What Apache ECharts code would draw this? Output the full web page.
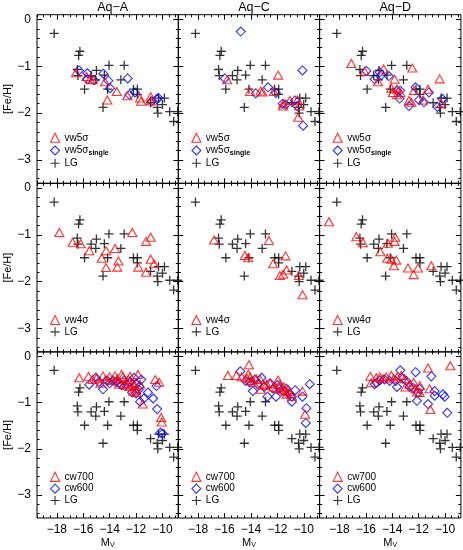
<!DOCTYPE html>
<html>
<head>
<meta charset="utf-8">
<script src="https://cdn.jsdelivr.net/npm/echarts@6/dist/echarts.min.js"></script>
<style>
html, body { margin: 0; padding: 0; background: #fff; }
#chart { width: 463px; height: 550px; }
</style>
</head>
<body>
<div id="chart"></div>
<script>
// panel titles and axis ticks
var halos = ['Aq−A', 'Aq−C', 'Aq−D'];
var xTicks = [-18, -16, -14, -12, -10];
var yTicks = [-3, -2, -1, 0];

// Local Group dwarfs (same in every panel) : [M_V, [Fe/H]]
var lg = [[-18.2,-0.3],[-16.25,-0.68],[-16.35,-0.77],[-16.45,-1.07],[-16.4,-1.2],[-15.9,-1.49],
  [-15.4,-1.2],[-15.0,-1.09],[-15.05,-1.29],[-14.4,-1.19],[-14.05,-0.98],[-14.15,-1.49],[-14.5,-1.88],
  [-12.9,-0.98],[-13.15,-1.29],[-12.2,-1.49],[-11.9,-1.49],[-11.9,-1.6],[-10.9,-1.78],[-10.3,-1.68],
  [-9.85,-1.68],[-10.0,-1.82],[-10.4,-1.88],[-10.35,-2.0],[-9.45,-1.97],[-9.15,-2.18],[-8.85,-1.97]];

// row 1 : vw5sigma
var vw5A = [[-16.55,-1.14],[-15.48,-1.28],[-15.28,-1.29],[-15.75,-1.22],[-14.35,-1.33],[-14.17,-1.72],[-13.46,-1.54],
  [-12.66,-1.63],[-11.7,-1.68],[-11.62,-1.75],[-10.89,-1.65],[-10.89,-1.74]];
var vw5sA = [[-16.32,-1.09],[-15.69,-1.15],[-15.69,-1.28],[-15.18,-1.3],[-14.48,-1.16],[-14.1,-1.31],[-13.97,-1.47],
  [-12.63,-1.26],[-12.5,-1.61],[-12.08,-1.56],[-10.81,-1.75],[-10.43,-1.7],[-10.3,-1.68]];
var vw5C = [[-15.8,-1.29],[-14.08,-1.54],[-13.27,-1.53],[-13.12,-1.55],[-12.27,-1.54],[-11.94,-1.19],[-11.05,-1.73],
  [-11.56,-1.85],[-11.55,-1.8],[-10.47,-1.72],[-10.35,-1.85],[-10.42,-2.09]];
var vw5sC = [[-14.77,-0.26],[-15.98,-1.26],[-13.63,-1.58],[-12.7,-1.45],[-12.11,-1.57],[-11.6,-1.8],[-11.36,-1.82],
  [-10.67,-1.73],[-10.5,-1.85],[-10.1,-1.09],[-10.05,-2.27]];
var vw5D = [[-17.1,-0.94],[-16.09,-1.11],[-15.08,-1.33],[-14.65,-1.06],[-13.82,-1.28],[-14.07,-1.47],[-13.95,-1.56],
  [-13.64,-1.49],[-13.64,-1.61],[-13.39,-1.56],[-12.73,-1.73],[-12.55,-1.77],[-12.48,-1.04],[-12.35,-1.52],
  [-11.67,-1.72],[-11.3,-1.49],[-10.41,-1.27],[-10.28,-1.8]];
var vw5sD = [[-15.96,-1.1],[-15.33,-1.28],[-14.95,-1.13],[-14.83,-1.19],[-14.25,-1.21],[-13.64,-1.52],[-13.4,-1.52],
  [-13.44,-1.69],[-12.73,-1.85],[-12.23,-1.45],[-11.98,-1.72],[-11.6,-1.77],[-11.22,-1.56],[-10.58,-1.87],[-10.2,-1.7]];

// row 2 : vw4sigma
var vw4A = [[-17.81,-0.95],[-16.8,-1.16],[-16.19,-1.19],[-15.54,-1.34],[-14.6,-1.5],[-14.27,-1.34],[-14.27,-1.7],
  [-13.59,-1.29],[-13.42,-1.69],[-13.34,-1.56],[-12.28,-0.95],[-11.83,-1.69],[-11.24,-1.14],[-11.24,-1.8],
  [-10.89,-1.05],[-10.89,-1.52],[-10.64,-1.62]];
var vw4C = [[-16.79,-1.11],[-14.46,-1.44],[-14.21,-1.49],[-12.64,-1.12],[-12.32,-1.62],[-11.38,-1.45],[-11.3,-1.75],
  [-11.81,-1.87],[-11.56,-1.84],[-10.37,-1.87],[-10.09,-2.28]];
var vw4D = [[-18.79,-0.72],[-16.72,-1.04],[-16.22,-1.17],[-14.9,-1.36],[-14.33,-1.18],[-13.77,-1.05],[-13.82,-1.14],
  [-14.37,-1.5],[-14.07,-1.52],[-13.7,-1.54],[-13.87,-1.66],[-12.81,-1.71],[-12.38,-1.85],[-12.05,-1.71],[-11.04,-1.66]];

// row 3 : cw700 / cw600
var cw700A = [[-16.3,-0.46],[-15.6,-0.43],[-15.3,-0.5],[-15.0,-0.47],[-14.7,-0.58],[-14.5,-0.42],[-14.3,-0.5],
  [-14.0,-0.44],[-13.8,-0.52],[-13.6,-0.42],[-13.4,-0.48],[-13.1,-0.39],[-13.0,-0.44],[-12.9,-0.6],[-12.75,-0.62],
  [-12.6,-0.5],[-12.45,-0.43],[-12.3,-0.57],[-12.1,-0.63],[-12.0,-0.7],[-11.95,-0.78],[-11.85,-0.39],[-11.7,-0.6],
  [-11.5,-1.03],[-10.55,-0.5],[-10.25,-0.56],[-10.1,-1.32],[-10.05,-1.42],[-12.5,-0.65],[-13.3,-0.6],[-12.2,-0.75]];
var cw600A = [[-15.55,-0.61],[-15.05,-0.46],[-14.8,-0.55],[-14.5,-0.71],[-14.2,-0.52],[-14.0,-0.58],[-13.75,-0.52],
  [-13.5,-0.55],[-13.3,-0.57],[-13.1,-0.62],[-12.9,-0.52],[-12.7,-0.6],[-12.45,-0.55],[-12.3,-0.78],[-12.15,-0.46],
  [-12.0,-0.6],[-11.75,-0.65],[-11.7,-0.98],[-11.6,-0.5],[-11.4,-0.91],[-11.1,-0.78],[-10.7,-0.91],[-10.45,-0.64],
  [-10.4,-1.14],[-10.15,-1.65],[-10.0,-1.67],[-12.0,-0.8],[-11.8,-0.72]];
var cw700C = [[-15.75,-0.41],[-15.1,-0.41],[-14.7,-0.44],[-14.15,-0.18],[-14.2,-0.38],[-14.05,-0.45],[-14.3,-0.47],
  [-13.95,-0.52],[-13.8,-0.56],[-13.6,-0.48],[-13.3,-0.5],[-13.25,-0.71],[-13.0,-0.62],[-12.8,-0.6],[-12.55,-0.58],
  [-12.3,-0.66],[-12.1,-0.68],[-11.95,-0.51],[-11.8,-0.6],[-11.7,-0.72],[-11.5,-0.66],[-11.4,-0.75],[-11.3,-0.82],
  [-11.2,-0.72],[-11.0,-0.8],[-10.9,-0.86],[-10.1,-0.75],[-9.9,-1.25]];
var cw600C = [[-14.8,-0.32],[-14.4,-0.53],[-14.1,-0.56],[-13.85,-0.75],[-13.5,-0.6],[-13.2,-0.46],[-13.0,-0.66],
  [-12.75,-0.87],[-12.55,-0.58],[-12.3,-0.7],[-12.1,-0.87],[-11.85,-0.7],[-11.5,-0.76],[-11.3,-0.7],[-11.1,-0.8],
  [-10.9,-0.87],[-10.9,-0.98],[-10.65,-0.73],[-10.1,-0.87],[-9.55,-0.6],[-9.8,-1.12],[-9.85,-1.44],[-12.0,-0.62],[-13.7,-0.5]];
var cw700D = [[-15.66,-0.43],[-15.6,-0.57],[-15.21,-0.46],[-14.95,-0.44],[-14.7,-0.48],[-14.45,-0.44],[-14.07,-0.41],
  [-13.89,-0.48],[-13.64,-0.44],[-13.31,-0.41],[-13.06,-0.48],[-13.0,-0.66],[-12.68,-0.6],[-12.38,-0.56],[-12.23,-0.7],
  [-12.13,-0.77],[-11.92,-0.63],[-11.92,-0.78],[-11.29,-0.25],[-11.17,-0.7],[-11.11,-1.15],[-9.6,-0.2]];
var cw600D = [[-15.33,-0.6],[-15.2,-0.57],[-14.95,-0.52],[-14.58,-0.5],[-14.2,-0.53],[-13.74,-0.53],[-13.64,-0.66],
  [-13.39,-0.3],[-13.19,-0.48],[-12.93,-0.53],[-12.68,-0.66],[-12.43,-0.68],[-12.23,-0.34],[-12.05,-0.78],[-11.92,-0.7],
  [-12.13,-0.96],[-11.04,-0.43],[-11.29,-1.03],[-10.79,-0.75],[-10.79,-0.85],[-10.16,-0.82],[-10.03,-0.87],[-9.83,-1.22]];

var RED = '#ff0000', BLUE = '#0000ff', BLACK = '#000000';
var PLUS = 'path://M0,5L10,5M5,0L5,10';
var rows = [
  { kinds: [['vw5σ', 'triangle', RED], ['vw5σ_single', 'diamond', BLUE], ['LG', PLUS, BLACK]],
    data: [[vw5A, vw5sA, lg], [vw5C, vw5sC, lg], [vw5D, vw5sD, lg]] },
  { kinds: [['vw4σ', 'triangle', RED], ['LG', PLUS, BLACK]],
    data: [[vw4A, lg], [vw4C, lg], [vw4D, lg]] },
  { kinds: [['cw700', 'triangle', RED], ['cw600', 'diamond', BLUE], ['LG', PLUS, BLACK]],
    data: [[cw700A, cw600A, lg], [cw700C, cw600C, lg], [cw700D, cw600D, lg]] }
];

var lefts = [37, 178.3, 319.6], W = 141.3;
var tops = [14.7, 183.3, 351.9], H = 168.6;
var XMIN = -19.5, XMAX = -8.8, YMIN = -3.5, YMAX = 0.1;
var FONT = 'Liberation Sans';

var xMinor = [], yMinor = [];
for (var t = -19.5; t <= -8.8; t += 0.5) xMinor.push(t);
for (var k = -17; k <= 0; k++) yMinor.push(k / 5);

function minus(v) {
  var r = Math.round(v);
  return (r < 0 ? '−' : '') + Math.abs(r);
}

function xAxisOf(g, pos, ticks, len, labels, named) {
  return {
    gridIndex: g, type: 'value', position: pos, min: XMIN, max: XMAX,
    axisLine: { show: false, onZero: false }, splitLine: { show: false },
    axisTick: { show: true, inside: true, length: len, customValues: ticks, lineStyle: { color: BLACK, width: 1 } },
    axisLabel: { show: labels, customValues: ticks, margin: 6, color: BLACK, fontSize: 12, fontFamily: FONT,
      formatter: minus, showMinLabel: true, showMaxLabel: true },
    name: named ? '{m|M}{v|V}' : '', nameLocation: 'middle', nameGap: 18,
    nameTextStyle: { color: BLACK, fontFamily: FONT, rich: {
      m: { fontSize: 11, fontFamily: FONT, color: BLACK },
      v: { fontSize: 7, fontFamily: FONT, color: BLACK, padding: [6, 0, 0, 0] } } }
  };
}
function yAxisOf(g, pos, ticks, len, labels, named) {
  return {
    gridIndex: g, type: 'value', position: pos, min: YMIN, max: YMAX,
    axisLine: { show: false, onZero: false }, splitLine: { show: false },
    axisTick: { show: true, inside: true, length: len, customValues: ticks, lineStyle: { color: BLACK, width: 1 } },
    axisLabel: { show: labels, customValues: ticks, margin: 6, color: BLACK, fontSize: 12, fontFamily: FONT,
      formatter: minus, showMinLabel: true, showMaxLabel: true },
    name: named ? '[Fe/H]' : '', nameLocation: 'middle', nameRotate: 90, nameGap: 21,
    nameTextStyle: { color: BLACK, fontSize: 11, fontFamily: FONT }
  };
}

var grids = [], xAxes = [], yAxes = [], series = [], legends = [], titles = [];
rows.forEach(function (row, r) {
  for (var c = 0; c < 3; c++) {
    var g = grids.length;
    grids.push({ left: lefts[c], top: tops[r], width: W, height: H, show: true,
      borderColor: BLACK, borderWidth: 1, backgroundColor: 'transparent' });
    var xi = xAxes.length, yi = yAxes.length;
    xAxes.push(xAxisOf(g, 'bottom', xTicks, 5, r === 2, r === 2));
    xAxes.push(xAxisOf(g, 'bottom', xMinor, 2.5, false, false));
    xAxes.push(xAxisOf(g, 'top', xTicks, 5, false, false));
    xAxes.push(xAxisOf(g, 'top', xMinor, 2.5, false, false));
    yAxes.push(yAxisOf(g, 'left', yTicks, 5, c === 0, c === 0));
    yAxes.push(yAxisOf(g, 'left', yMinor, 2.5, false, false));
    yAxes.push(yAxisOf(g, 'right', yTicks, 5, false, false));
    yAxes.push(yAxisOf(g, 'right', yMinor, 2.5, false, false));

    // LG drawn first, then the simulated samples
    for (var s = row.kinds.length - 1; s >= 0; s--) {
      var kind = row.kinds[s];
      series.push({
        type: 'scatter', name: kind[0], xAxisIndex: xi, yAxisIndex: yi,
        symbol: kind[1], symbolSize: kind[1] === 'triangle' ? [9, 8] : 9,
        clip: false, silent: true, animation: false,
        itemStyle: { color: 'transparent', borderColor: kind[2], borderWidth: kind[2] === BLACK ? 1.3 : 1.1 },
        data: row.data[c][s]
      });
    }

    legends.push({
      left: lefts[c] + 13, bottom: 550 - (tops[r] + H) + 15, padding: 0,
      orient: 'vertical', itemWidth: 9, itemHeight: 9, itemGap: 1.7, selectedMode: false,
      data: row.kinds.map(function (kd) { return kd[0]; }),
      itemStyle: { borderWidth: 1.1 },
      formatter: function (name) {
        return name === 'vw5σ_single' ? '{a|vw5σ}{s|single}' : name;
      },
      textStyle: { color: BLACK, fontSize: 10, lineHeight: 10, fontFamily: FONT, rich: {
        a: { fontSize: 10, lineHeight: 10, fontFamily: FONT, color: BLACK },
        s: { fontSize: 7, fontWeight: 'bold', lineHeight: 10, fontFamily: FONT, color: BLACK, padding: [5, 0, 0, 0] } } }
    });
  }
});

halos.forEach(function (h, c) {
  titles.push({ text: h, left: lefts[c] + W / 2, top: 0, textAlign: 'center', padding: [1, 5, 5, 5],
    textStyle: { fontSize: 12.5, fontWeight: 'normal', color: BLACK, fontFamily: FONT } });
});

var chart = echarts.init(document.getElementById('chart'));
chart.setOption({
  animation: false,
  backgroundColor: '#fff',
  textStyle: { fontFamily: FONT },
  title: titles,
  grid: grids,
  xAxis: xAxes,
  yAxis: yAxes,
  legend: legends,
  series: series
});
</script>
</body>
</html>
